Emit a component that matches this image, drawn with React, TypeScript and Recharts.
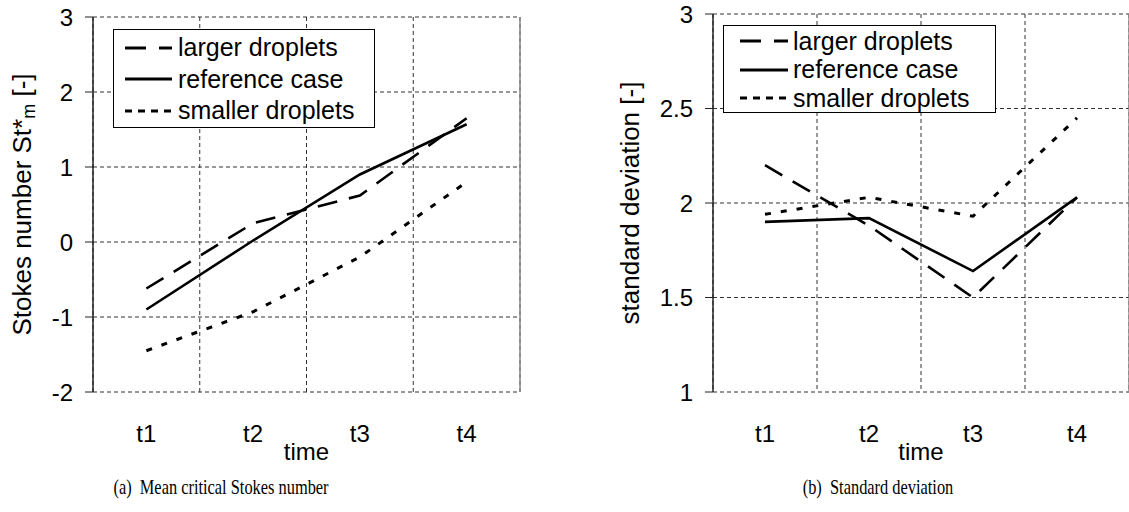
import { LineChart, Line, XAxis, YAxis, CartesianGrid, Legend, ReferenceLine, Label } from 'recharts';

const categories = ['t1', 't2', 't3', 't4'];
const seriesNames = ['larger droplets', 'reference case', 'smaller droplets'];

const stokesLarger = [-0.62, 0.25, 0.62, 1.65];
const stokesReference = [-0.9, 0.02, 0.9, 1.57];
const stokesSmaller = [-1.45, -0.93, -0.2, 0.8];
const stokesTicks = [-2, -1, 0, 1, 2, 3];

const stdLarger = [2.2, 1.88, 1.5, 2.03];
const stdReference = [1.9, 1.92, 1.64, 2.03];
const stdSmaller = [1.94, 2.03, 1.93, 2.45];
const stdTicks = [1, 1.5, 2, 2.5, 3];

const boundaryTicks = [0.5, 1.5, 2.5, 3.5, 4.5];
const centerTicks = [1, 2, 3, 4];

const SANS = '"Liberation Sans", Arial, sans-serif';
const SERIF = '"Liberation Serif", "Times New Roman", serif';

const styles = [
  { dash: '20 12', legendDash: '21 13', width: 2.6 },
  { dash: undefined, legendDash: undefined, width: 2.6 },
  { dash: '6 10', legendDash: '7 6', width: 3 },
];

function buildRows(larger: number[], reference: number[], smaller: number[]) {
  return categories.map((_, i) => ({ x: i + 1, larger: larger[i], reference: reference[i], smaller: smaller[i] }));
}

function legendBox(box: { w: number; h: number; rowH: number; padTop: number; padLeft: number; sample: number; gap: number }) {
  return () => (
    <div
      style={{
        width: box.w,
        height: box.h,
        boxSizing: 'border-box',
        border: '1px solid #000',
        background: '#fff',
        paddingTop: box.padTop,
        paddingLeft: box.padLeft,
        fontFamily: SANS,
        fontSize: 25,
        color: '#000',
      }}
    >
      {seriesNames.map((name, i) => (
        <div key={name} style={{ height: box.rowH, display: 'flex', alignItems: 'center', whiteSpace: 'nowrap' }}>
          <svg width={box.sample} height={10} style={{ display: 'block' }}>
            <line x1={0} y1={5} x2={box.sample} y2={5} stroke="#000" strokeWidth={3} strokeDasharray={styles[i].legendDash} />
          </svg>
          <span style={{ marginLeft: box.gap, lineHeight: 1 }}>{name}</span>
        </div>
      ))}
    </div>
  );
}

function Panel(props: {
  width: number;
  top: number;
  axisWidth: number;
  right: number;
  domain: [number, number];
  ticks: number[];
  rows: any[];
  yLabel: (p: any) => any;
  legendPos: { left: number; top: number };
  legend: () => any;
}) {
  return (
    <LineChart
      width={props.width}
      height={512}
      data={props.rows}
      margin={{ top: props.top, right: props.right, left: 0, bottom: 52 }}
      style={{ fontFamily: SANS }}
    >
      <CartesianGrid stroke="#333" strokeDasharray="4 3" />
      <XAxis
        dataKey="x"
        type="number"
        domain={[0.5, 4.5]}
        ticks={boundaryTicks}
        tickFormatter={() => ''}
        height={0}
        tickSize={7}
        axisLine={{ stroke: '#222', strokeWidth: 1.5 }}
        tickLine={{ stroke: '#222' }}
      />
      <XAxis
        xAxisId="lab"
        dataKey="x"
        type="number"
        domain={[0.5, 4.5]}
        ticks={centerTicks}
        interval={0}
        tickFormatter={(v: number) => categories[v - 1]}
        height={68}
        tickSize={0}
        tickMargin={33}
        axisLine={false}
        tickLine={false}
        tick={{ fill: '#000', fontSize: 24, fontFamily: SANS }}
      >
        <Label value="time" position="insideBottom" offset={0} fill="#000" fontSize={24} fontFamily={SANS} />
      </XAxis>
      <YAxis
        type="number"
        domain={props.domain}
        ticks={props.ticks}
        interval={0}
        width={props.axisWidth}
        tickSize={8}
        tickMargin={12}
        axisLine={{ stroke: '#222', strokeWidth: 1.5 }}
        tickLine={{ stroke: '#222' }}
        tick={{ fill: '#000', fontSize: 24, fontFamily: SANS }}
        label={{ content: props.yLabel }}
      />
      <ReferenceLine x={4.5} stroke="#888" strokeWidth={1.5} />
      <Legend
        layout="vertical"
        align="center"
        verticalAlign="middle"
        wrapperStyle={{ left: props.legendPos.left, top: props.legendPos.top, width: 'auto', height: 'auto' }}
        content={props.legend}
      />
      <Line dataKey="larger" name={seriesNames[0]} stroke="#000" strokeWidth={styles[0].width} strokeDasharray={styles[0].dash} dot={false} isAnimationActive={false} />
      <Line dataKey="reference" name={seriesNames[1]} stroke="#000" strokeWidth={styles[1].width} dot={false} isAnimationActive={false} />
      <Line dataKey="smaller" name={seriesNames[2]} stroke="#000" strokeWidth={styles[2].width} strokeDasharray={styles[2].dash} dot={false} isAnimationActive={false} />
    </LineChart>
  );
}

const stokesLabel = (p: any) => {
  const vb = p.viewBox || { x: 0, y: 17, width: 93, height: 375 };
  const cx = vb.x + 22;
  const cy = vb.y + vb.height / 2;
  return (
    <text x={cx} y={cy} transform={`rotate(-90 ${cx} ${cy})`} textAnchor="middle" dominantBaseline="central" fontSize={26} fontFamily={SANS} fill="#000">
      Stokes number St*
      <tspan fontSize={18} dy={7}>m</tspan>
      <tspan dy={-7}> [-]</tspan>
    </text>
  );
};

const stdLabel = (p: any) => {
  const vb = p.viewBox || { x: 0, y: 14, width: 153, height: 378 };
  const cx = vb.x + 70;
  const cy = vb.y + vb.height / 2;
  return (
    <text x={cx} y={cy} transform={`rotate(-90 ${cx} ${cy})`} textAnchor="middle" dominantBaseline="central" fontSize={26} fontFamily={SANS} fill="#000">
      standard deviation [-]
    </text>
  );
};

const captionStyle = {
  position: 'absolute' as const,
  top: 475,
  textAlign: 'center' as const,
  fontFamily: SERIF,
  fontSize: 21,
  color: '#000',
  transform: 'scaleX(0.78)',
  whiteSpace: 'nowrap' as const,
};

export default function App() {
  const stokesRows = buildRows(stokesLarger, stokesReference, stokesSmaller);
  const stdRows = buildRows(stdLarger, stdReference, stdSmaller);
  return (
    <div style={{ position: 'absolute', left: 0, top: 0, width: 1129, height: 512, background: '#fff', overflow: 'hidden' }}>
      <div style={{ position: 'absolute', left: 0, top: 0 }}>
        <Panel
          width={560}
          top={17}
          axisWidth={93}
          right={40}
          domain={[-2, 3]}
          ticks={stokesTicks}
          rows={stokesRows}
          yLabel={stokesLabel}
          legendPos={{ left: 113, top: 29 }}
          legend={legendBox({ w: 262, h: 99, rowH: 31.5, padTop: 2, padLeft: 11, sample: 47, gap: 6 })}
        />
      </div>
      <div style={{ position: 'absolute', left: 560, top: 0 }}>
        <Panel
          width={569}
          top={14}
          axisWidth={153}
          right={0}
          domain={[1, 3]}
          ticks={stdTicks}
          rows={stdRows}
          yLabel={stdLabel}
          legendPos={{ left: 163, top: 25 }}
          legend={legendBox({ w: 273, h: 88, rowH: 28.5, padTop: 1, padLeft: 16, sample: 48, gap: 5 })}
        />
      </div>
      <div style={{ ...captionStyle, left: 21, width: 400 }}>(a)&nbsp; Mean critical Stokes number</div>
      <div style={{ ...captionStyle, left: 678, width: 400 }}>(b)&nbsp; Standard deviation</div>
    </div>
  );
}
